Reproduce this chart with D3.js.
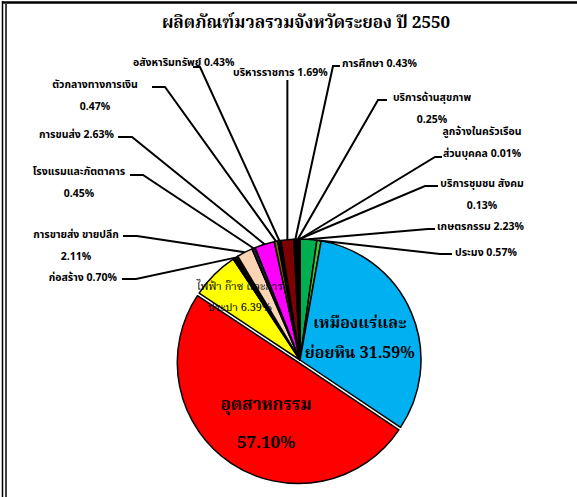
<!DOCTYPE html>
<html>
<head>
<meta charset="utf-8">
<script src="https://cdn.jsdelivr.net/npm/d3@7"></script>
<style>
  body { margin: 0; background: #fff; }
  text { font-family: "Noto Sans Thai", "Noto Serif Thai", Tahoma, "DejaVu Sans", sans-serif; }
</style>
</head>
<body>
<script>
//////////////// Datas ////////////////////
var title = "ผลิตภัณฑ์มวลรวมจังหวัดระยอง ปี 2550";

var categories = [
  "เกษตรกรรม", "ประมง", "เหมืองแร่และย่อยหิน", "อุตสาหกรรม",
  "ไฟฟ้า ก๊าซ และการประปา", "ก่อสร้าง", "การขายส่ง ขายปลีก", "โรงแรมและภัตตาคาร",
  "การขนส่ง", "ตัวกลางทางการเงิน", "อสังหาริมทรัพย์", "บริหารราชการ",
  "การศึกษา", "บริการด้านสุขภาพ", "บริการชุมชน สังคม", "ลูกจ้างในครัวเรือนส่วนบุคคล"
];
// slice sizes as drawn (the red slice covers ~49.9% even though its label says 57.10%)
var shares = [2.23, 0.57, 31.59, 49.92, 6.39, 0.70, 2.11, 0.45,
              2.63, 0.47, 0.43, 1.69, 0.43, 0.25, 0.13, 0.01];
// printed labels
var pctText = ["2.23%", "0.57%", "31.59%", "57.10%", "6.39%", "0.70%", "2.11%", "0.45%",
               "2.63%", "0.47%", "0.43%", "1.69%", "0.43%", "0.25%", "0.13%", "0.01%"];

var colors = ["#00b050", "#33cc33", "#00b0f0", "#ff0000", "#ffff00", "#000000", "#fbd4b4", "#1f1f3f",
              "#ff00ff", "#806000", "#000000", "#7f0000", "#000000", "#400060", "#000000", "#000000"];

//////////////// Layout ////////////////////
var W = 577, H = 497;
var cx = 300, cy = 360, radius = 121;
var explodeIdx = 3, explodeBy = 3;

// labels inside slices: br = chars on first line
var inside = {
  2: {rf: 0.6,  dx: -7, dy: 6, lh: 30, br: 12, size: 16, weight: "bold"},
  3: {rf: 0.6,  dx: 8,  dy: 0, lh: 38, br: 10, size: 17, weight: "bold"},
  4: {rf: 0.75, dx: 4,  dy: 1, lh: 21, br: 17, size: 11, weight: "normal"}
};
// callouts: text anchor point, break, leader elbow (near pie) and end (near text)
var callouts = {
  0:  {x: 437, y: 226, anchor: "start",  br: 0,  elbow: [428, 229], end: [435, 229]},
  1:  {x: 455, y: 252, anchor: "start",  br: 0,  elbow: [440, 254], end: [452, 254]},
  5:  {x: 117, y: 277, anchor: "end",    br: 0,  elbow: [136, 279], end: [122, 279]},
  6:  {x: 76,  y: 234, anchor: "middle", br: -1, elbow: [137, 236], end: [123, 236]},
  7:  {x: 79,  y: 171, anchor: "middle", br: -1, elbow: [143, 175], end: [130, 175]},
  8:  {x: 114, y: 134, anchor: "end",    br: 0,  elbow: [132, 137], end: [118, 137]},
  9:  {x: 95,  y: 84,  anchor: "middle", br: -1, elbow: [165, 87],  end: [152, 87]},
  10: {x: 133, y: 62,  anchor: "start",  br: 0,  elbow: [200, 67],  end: [193, 67]},
  11: {x: 233, y: 72,  anchor: "start",  br: 0,  elbow: null,       end: [null, 80]},
  12: {x: 342, y: 63,  anchor: "start",  br: 0,  elbow: [333, 66],  end: [340, 66]},
  13: {x: 432, y: 97,  anchor: "middle", br: -1, elbow: [378, 100], end: [387, 100]},
  14: {x: 482, y: 183, anchor: "middle", br: -1, elbow: [425, 186], end: [438, 186]},
  15: {x: 482, y: 131, anchor: "middle", br: 18, elbow: [435, 157], end: [442, 157]}
};
var lineGap = 22;

function labelLines(i, br) {
  var full = categories[i] + " " + pctText[i];
  if (br === 0) return [full];
  if (br === -1) br = categories[i].length;
  return [full.slice(0, br).trim(), full.slice(br).trim()];
}

//////////////// SVG ////////////////////
var svg = d3.select("body")
  .append("svg")
  .attr("width", W)
  .attr("height", H);

// frame: heavy top rule and double left rule
svg.append("line").attr("x1", 2).attr("x2", W).attr("y1", 2.5).attr("y2", 2.5)
  .style("stroke", "#000").style("stroke-width", 2.5);
svg.append("line").attr("x1", 2.5).attr("x2", 2.5).attr("y1", 1).attr("y2", H)
  .style("stroke", "#000").style("stroke-width", 1.5);
svg.append("line").attr("x1", 6).attr("x2", 6).attr("y1", 4).attr("y2", H)
  .style("stroke", "#000").style("stroke-width", 1.5);

svg.append("text")
  .attr("x", 306)
  .attr("y", 28)
  .attr("text-anchor", "middle")
  .style("font-family", "'Noto Serif Thai', 'Noto Sans Thai', 'Liberation Serif', serif")
  .style("font-size", "17px")
  .style("font-weight", "bold")
  .text(title);

//////////////// Pie ////////////////////
var pie = d3.pie().sort(null).value(function(d){return d;});
var arcs = pie(shares);
var arc = d3.arc().innerRadius(0).outerRadius(radius);
var rim = d3.arc().innerRadius(radius).outerRadius(radius);

function shift(d, i) {
  if (i !== explodeIdx) return [0, 0];
  var a = (d.startAngle + d.endAngle) / 2;
  return [Math.sin(a) * explodeBy, -Math.cos(a) * explodeBy];
}

var g = svg.append("g")
  .attr("transform", "translate(" + cx + "," + cy + ")");

g.selectAll("path.slice")
  .data(arcs)
  .enter()
  .append("path")
  .attr("class", "slice")
  .attr("transform", function(d, i){ var s = shift(d, i); return "translate(" + s[0] + "," + s[1] + ")"; })
  .attr("d", arc)
  .attr("fill", function(d, i){ return colors[i]; })
  .style("stroke", "#000")
  .style("stroke-width", 1.5)
  .style("stroke-linejoin", "round");

//////////////// Leader lines ////////////////
Object.keys(callouts).forEach(function(k){
  var i = +k, c = callouts[k];
  var p = rim.centroid(arcs[i]);
  var pts = [[p[0] + cx, p[1] + cy]];
  if (c.elbow) {
    pts.push(c.elbow);
    pts.push(c.end);
  } else {
    pts.push([p[0] + cx, c.end[1]]);
  }
  svg.append("path")
    .attr("d", d3.line()(pts))
    .attr("fill", "none")
    .style("stroke", "#000")
    .style("stroke-width", 2);

  var lines = labelLines(i, c.br);
  var t = svg.append("text")
    .attr("text-anchor", c.anchor)
    .style("font-size", "10.5px")
    .style("font-weight", "bold")
    .style("fill", "#000");
  lines.forEach(function(s, j){
    t.append("tspan")
      .attr("x", c.x)
      .attr("y", c.y + j * lineGap)
      .attr("dy", "0.35em")
      .text(s);
  });
});

//////////////// Inside labels ////////////////
Object.keys(inside).forEach(function(k){
  var i = +k, c = inside[k];
  var ca = d3.arc().innerRadius(radius * c.rf).outerRadius(radius * c.rf).centroid(arcs[i]);
  var s = shift(arcs[i], i);
  var x = cx + ca[0] + s[0] + c.dx;
  var y = cy + ca[1] + s[1] + c.dy;
  var lines = labelLines(i, c.br);
  var t = svg.append("text")
    .attr("text-anchor", "middle")
    .style("font-family", "'Noto Serif Thai', 'Noto Sans Thai', 'Liberation Serif', serif")
    .style("font-size", c.size + "px")
    .style("font-weight", c.weight)
    .style("fill", "#000");
  lines.forEach(function(str, j){
    t.append("tspan")
      .attr("x", x)
      .attr("y", y + (j - (lines.length - 1) / 2) * c.lh)
      .attr("dy", "0.35em")
      .text(str);
  });
});
</script>
</body>
</html>
